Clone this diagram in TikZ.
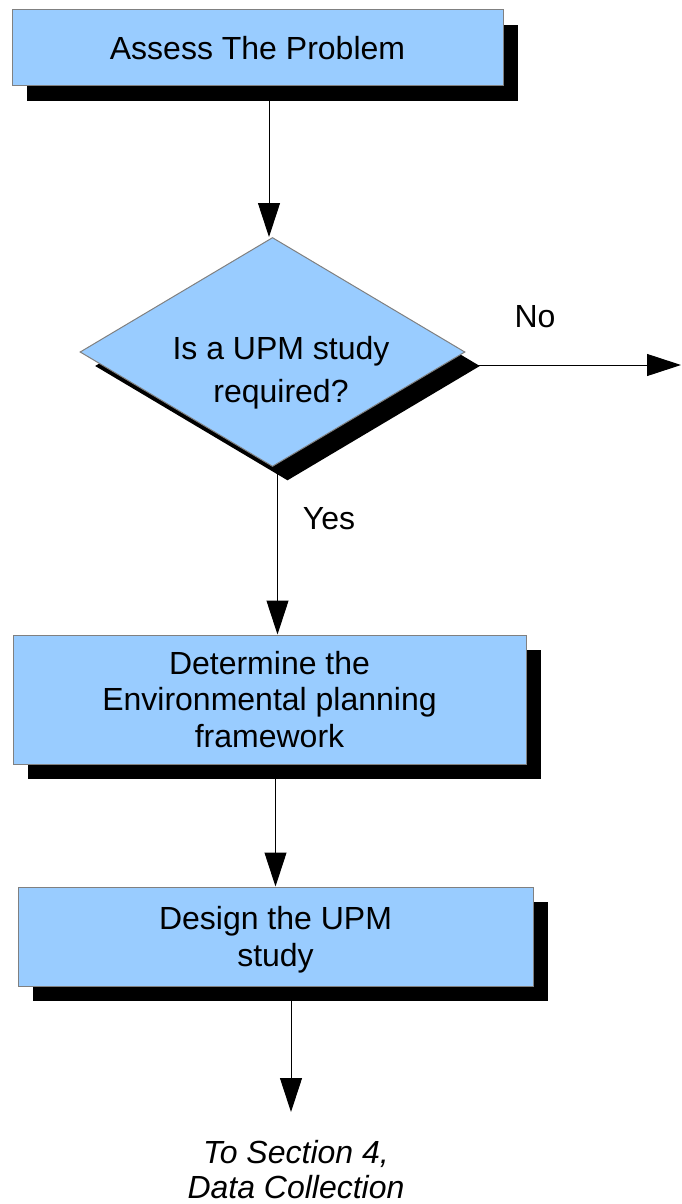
\documentclass[tikz,border=0pt]{standalone}
\usepackage{fontspec}
\setmainfont{Liberation Sans}
\usetikzlibrary{arrows.meta}
\usetikzlibrary{shapes.geometric, shadows, backgrounds}
\definecolor{boxblue}{RGB}{153,204,255}
\definecolor{edgegray}{RGB}{128,128,128}

\tikzset{
  txt/.style={font=\fontsize{16}{18.25}\selectfont, align=center, inner sep=0pt},
  stepbox/.style={txt, rectangle, draw=edgegray, line width=0.5pt, fill=boxblue,
    drop shadow={shadow xshift=7.5pt, shadow yshift=-7.5pt, fill=black, opacity=1}},
  decision/.style={diamond, draw=edgegray, line width=0.5pt, fill=boxblue, inner sep=0pt,
    minimum width=192.5pt, minimum height=114.5pt,
    drop shadow={shadow xshift=7.5pt, shadow yshift=-7pt, fill=black, opacity=1}},
  arr/.style={-{Triangle[length=17pt,width=11pt]}, line width=0.5pt},
}

\begin{document}
\begin{tikzpicture}[x=0.5pt, y=-0.5pt]
\useasboundingbox (0,0) rectangle (681,1204);

% boxes
\node[stepbox, minimum width=245.5pt, minimum height=38pt] (assess) at (257.5,48) {Assess The Problem};
\node[decision] (upm) at (272.5,352) {};
\node[txt, font=\fontsize{16}{21.5}\selectfont] (upmtext) at (281,372.5) {Is a UPM study\\required?};
\node[stepbox, minimum width=256.5pt, minimum height=64.5pt] (frame) at (269.5,699.5) {Determine the\\Environmental planning\\framework};
\node[stepbox, minimum width=257.5pt, minimum height=49.5pt, text depth=0pt] (design) at (275.5,936.5) {Design the UPM\\study};
\node[txt, font=\fontsize{16}{17.5}\selectfont\itshape] (nextsec) at (296,1170) {To Section 4,\\Data Collection};

\node[txt] (no) at (535,317) {No};
\node[txt] (yes) at (329,519) {Yes};

\coordinate (noend) at (681,365);
\coordinate (downend) at (291,1112);

% connectors
\begin{scope}[on background layer]
\draw[arr] ([xshift=5.75pt]assess.south) -- ([xshift=5.75pt]assess.south |- upm.north);
\draw[arr] (upm.east |- noend) -- (noend);
\draw[arr] ([xshift=2.5pt]upm.south) -- ([xshift=2.5pt]upm.south |- frame.north);
\draw[arr] (design.north |- frame.south) -- (design.north);
\draw[arr] (design.south -| downend) -- (downend);
\end{scope}
\end{tikzpicture}
\end{document}
